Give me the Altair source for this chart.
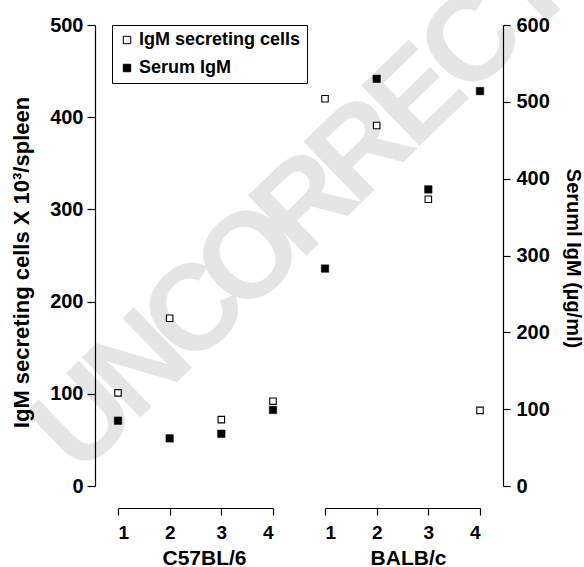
import altair as alt
import pandas as pd

# ---- data ----
strains = ["C57BL/6", "BALB/c"]
mice = [1, 2, 3, 4]
cells_c57 = [101, 182, 72, 92]        # IgM secreting cells x10^3/spleen
serum_c57 = [85, 62, 68, 99]          # serum IgM (ug/ml)
cells_balb = [420, 391, 311, 82]
serum_balb = [283, 530, 386, 514]
series = ["IgM secreting cells", "Serum IgM"]
left_ticks = [0, 100, 200, 300, 400, 500]
right_ticks = [0, 100, 200, 300, 400, 500, 600]
watermark = "UNCORRECTED"

FONT = "Liberation Sans"
W, H = 362, 461
PANEL, GAP = 155, 52

def frame(values, s):
    return pd.DataFrame({"mouse": mice, "value": values, "series": s})

df_cc = frame(cells_c57, series[0])
df_cs = frame(serum_c57, series[1])
df_bc = frame(cells_balb, series[0])
df_bs = frame(serum_balb, series[1])

def xaxis(title, tx):
    return alt.Axis(values=mice, title=title, orient="bottom", offset=22, format="d",
                    grid=False, tickSize=7, tickColor="black", domainColor="black",
                    tickWidth=1.2, domainWidth=1.2,
                    labelFont=FONT, labelFontSize=19, labelFontWeight="bold", labelColor="black",
                    labelPadding=8, titleFont=FONT, titleFontSize=21, titleFontWeight="bold",
                    titleColor="black", titlePadding=5, titleX=tx, zindex=1)

xc = alt.X("mouse:Q", scale=alt.Scale(domain=[1, 4], range=[0, PANEL], nice=False, zero=False),
           axis=xaxis(strains[0], 86))
xb = alt.X("mouse:Q", scale=alt.Scale(domain=[1, 4], range=[PANEL + GAP, W], nice=False, zero=False),
           axis=xaxis(strains[1], 290))

cells_scale = alt.Scale(domain=[0, 500], nice=False, zero=True)
serum_scale = alt.Scale(domain=[0, 600], nice=False, zero=True)

left_axis = alt.Axis(values=left_ticks, orient="left", offset=23, grid=False, tickSize=8,
                     tickColor="black", domainColor="black", tickWidth=1.2, domainWidth=1.2,
                     labelFont=FONT, labelFontSize=20, labelFontWeight="bold", labelColor="black",
                     labelPadding=4, title="IgM secreting cells X 10³/spleen",
                     titleFont=FONT, titleFontSize=22, titleFontWeight="bold", titleColor="black",
                     titlePadding=16, titleY=237, zindex=1)
right_axis = alt.Axis(values=right_ticks, orient="right", offset=23, grid=False, tickSize=7,
                      tickColor="black", domainColor="black", tickWidth=1.2, domainWidth=1.2,
                      labelFont=FONT, labelFontSize=20, labelFontWeight="bold", labelColor="black",
                      labelPadding=6, title="Seruml IgM (µg/ml)",
                      titleFont=FONT, titleFontSize=20, titleFontWeight="bold", titleColor="black",
                      titlePadding=13, titleY=233, zindex=1)

fill_enc = alt.Fill("series:N", scale=alt.Scale(domain=series, range=["white", "black"]),
                    legend=alt.Legend(title=None, orient="none", legendX=-6, legendY=0,
                                      symbolType="square", symbolSize=55,
                                      symbolStrokeColor="black", symbolStrokeWidth=1,
                                      labelFont=FONT, labelFontSize=18, labelFontWeight="bold",
                                      labelColor="black", labelOffset=3, labelLimit=400,
                                      strokeColor="black", fillColor="white",
                                      padding=6, rowPadding=10, zindex=2))

open_mark = dict(shape="square", filled=True, size=42, stroke="black", strokeWidth=1.1, opacity=1)
solid_mark = dict(shape="square", filled=True, size=56, stroke="black", strokeWidth=0.5, opacity=1)

c_cells = alt.Chart(df_cc).mark_point(**open_mark).encode(
    x=xc, y=alt.Y("value:Q", scale=cells_scale, axis=left_axis), fill=fill_enc)
c_serum = alt.Chart(df_cs).mark_point(**solid_mark).encode(
    x=xc, y=alt.Y("value:Q", scale=serum_scale, axis=None), fill=fill_enc)
b_cells = alt.Chart(df_bc).mark_point(**open_mark).encode(
    x=xb, y=alt.Y("value:Q", scale=cells_scale, axis=None), fill=alt.value("white"))
b_serum = alt.Chart(df_bs).mark_point(**solid_mark).encode(
    x=xb, y=alt.Y("value:Q", scale=serum_scale, axis=None if False else right_axis),
    fill=alt.value("black"))

# diagonal watermark, one glyph per letter along a 44 degree line
wm_df = pd.DataFrame({"letter": list(watermark), "i": list(range(len(watermark)))})
wm = alt.Chart(wm_df).transform_calculate(
    px="-33 + 55.4 * datum.i", py="395 - 53.9 * datum.i"
).mark_text(
    angle=316, font=FONT, fontSize=122, fontWeight="bold", color="#e5e5e5",
    align="center", baseline="middle").encode(
    x=alt.X("px:Q", scale=None, axis=None), y=alt.Y("py:Q", scale=None, axis=None),
    text="letter:N")

group_c = alt.layer(c_cells, c_serum).resolve_scale(y="independent").resolve_axis(y="independent")
group_b = alt.layer(b_cells, b_serum).resolve_scale(y="independent").resolve_axis(y="independent")

chart = alt.layer(wm, group_c, group_b).resolve_scale(
    x="independent", y="independent").resolve_axis(x="independent", y="independent").properties(
    width=W, height=H,
    autosize=alt.AutoSizeParams(type="none"),
    padding={"left": 118, "top": 25, "right": 104, "bottom": 81},
    background="white",
).configure_view(stroke=None)

chart.save("out.html", embed_options={"renderer": "svg", "actions": False})
